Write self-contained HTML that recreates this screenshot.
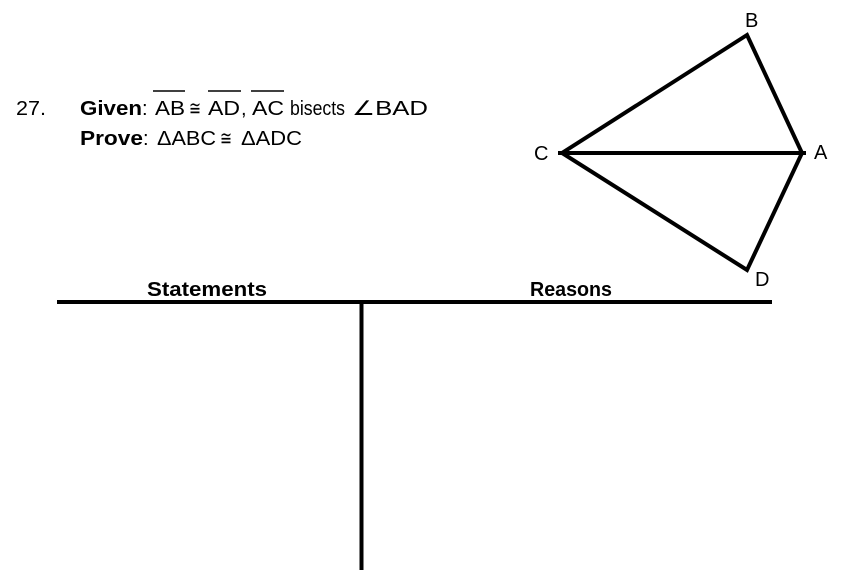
<!DOCTYPE html>
<html><head><meta charset="utf-8"><style>
html,body{margin:0;padding:0;background:#fff;}
svg{display:block;}
text{font-family:"Liberation Sans",sans-serif;fill:#000;}
</style></head><body>
<svg width="848" height="575" viewBox="0 0 848 575" xmlns="http://www.w3.org/2000/svg">
<rect width="848" height="575" fill="#fff"/>
<g font-size="20">
<text x="16" y="115" textLength="30" lengthAdjust="spacingAndGlyphs">27.</text>
<text x="80" y="115" font-weight="bold" textLength="62" lengthAdjust="spacingAndGlyphs">Given</text>
<text x="142" y="115">:</text>
<text x="155" y="115" textLength="30" lengthAdjust="spacingAndGlyphs">AB</text>
<text x="189" y="115" textLength="12" lengthAdjust="spacingAndGlyphs">≅</text>
<text x="208" y="115" textLength="32" lengthAdjust="spacingAndGlyphs">AD</text>
<text x="241" y="115">,</text>
<text x="252" y="115" textLength="32" lengthAdjust="spacingAndGlyphs">AC</text>
<text x="290" y="115" textLength="55" lengthAdjust="spacingAndGlyphs">bisects</text>
<text x="352" y="115" textLength="76" lengthAdjust="spacingAndGlyphs">∠BAD</text>
<text x="80" y="145" font-weight="bold" textLength="63" lengthAdjust="spacingAndGlyphs">Prove</text>
<text x="143" y="145">:</text>
<text x="157" y="145" textLength="59" lengthAdjust="spacingAndGlyphs">ΔABC</text>
<text x="220" y="145" textLength="12" lengthAdjust="spacingAndGlyphs">≅</text>
<text x="241" y="145" textLength="61" lengthAdjust="spacingAndGlyphs">ΔADC</text>
</g>
<line x1="153" y1="91" x2="185" y2="91" stroke="#000" stroke-width="1.5"/>
<line x1="208" y1="91" x2="241" y2="91" stroke="#000" stroke-width="1.5"/>
<line x1="251" y1="91" x2="284" y2="91" stroke="#000" stroke-width="1.5"/>
<g stroke="#000" stroke-width="4" fill="none" stroke-linejoin="miter">
<polygon points="747,35 802,153 747,270 562,153"/>
<line x1="558" y1="153" x2="806" y2="153"/>
</g>
<g font-size="20">
<text x="745" y="27">B</text>
<text x="814" y="159">A</text>
<text x="534" y="160">C</text>
<text x="755" y="286">D</text>
</g>
<text x="147" y="296" font-size="20" font-weight="bold" textLength="120" lengthAdjust="spacingAndGlyphs">Statements</text>
<text x="530" y="296" font-size="20" font-weight="bold" textLength="82" lengthAdjust="spacingAndGlyphs">Reasons</text>
<rect x="57" y="300" width="715" height="4" fill="#000"/>
<rect x="359.5" y="302" width="4" height="268" fill="#000"/>
</svg>
</body></html>
